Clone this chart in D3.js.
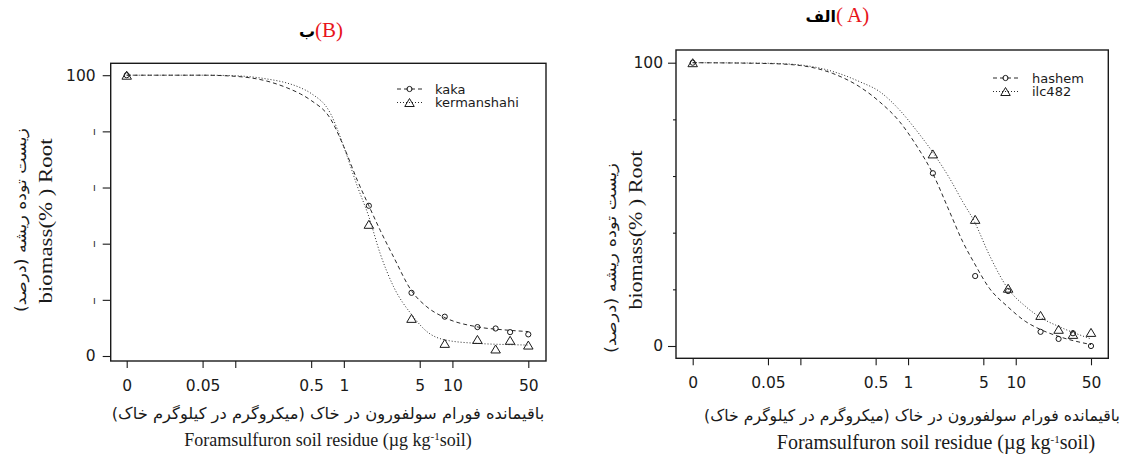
<!DOCTYPE html>
<html><head><meta charset="utf-8">
<script src="https://cdn.jsdelivr.net/npm/d3@7"></script>
<style>body{margin:0;background:#fff;} svg{display:block;}</style>
</head><body><svg id="c" width="1125" height="455"></svg>
<script>
// ---------- data ----------
const doses = [0, 1.7, 4.2, 8.5, 17, 25, 34, 50];
const kakaObs = [100, 53.5, 22.5, 14.0, 10.3, 9.8, 8.5, 7.7];
const kermanshahiObs = [100, 46.9, 13.4, 4.5, 5.9, 2.5, 5.6, 3.9];
const hashemObs = [100, 61.0, 24.7, 19.4, 5.0, 2.5, 4.5, 0];
const ilc482Obs = [100, 67.8, 44.7, 20.4, 10.8, 5.9, 4.1, 4.8];

// fitted curves
const bCurveDoses = [0, 0.05, 0.1, 0.2, 0.3, 0.4, 0.5, 0.75, 1.0, 1.33, 1.7, 2.16, 2.87, 4.24, 5.82, 8.6, 16.8, 30, 50];
const kakaCurve = [100, 100, 99.6, 97.8, 95.5, 93.3, 91.0, 84.6, 74.5, 62.6, 53.5, 44.8, 35.3, 23.0, 17.5, 13.6, 10.4, 9.3, 8.7];
const kermanshahiCurve = [100, 100, 99.8, 98.6, 97.2, 95.5, 93.5, 86.5, 74.5, 60.5, 49.6, 36.5, 24.7, 14.6, 8.7, 5.7, 4.5, 4.1, 3.9];
const aCurveDoses = [0, 0.05, 0.1, 0.2, 0.355, 0.544, 0.834, 1.19, 1.68, 2.43, 3.22, 4.13, 5.69, 8.41, 12.4, 16.6, 25.4, 50];
const hashemCurve = [100, 99.7, 99.0, 96.2, 91.5, 86.2, 79.2, 70.9, 61.2, 47.4, 36.8, 29.2, 20.4, 13.9, 8.6, 6.0, 3.3, 0.5];
const ilc482Curve = [100, 99.8, 99.2, 96.9, 93.3, 89.8, 83.3, 76.2, 68.6, 59.2, 50.9, 43.9, 32.1, 20.4, 13.9, 10.3, 6.8, 2.5];

const xTickValues = [0, 0.05, 0.1, 0.5, 1, 5, 10, 50];
const xTickLabels = ["0", "0.05", "", "0.5", "1", "5", "10", "50"];
const yTickValues = [0, 20, 40, 60, 80, 100];
const yTickLabelsB = ["0", "ı", "ı", "ı", "ı", "100"];
const yTickLabelsA = ["0", "", "", "", "", "100"];

const xTitleFa = "باقیمانده فورام سولفورون در خاک (میکروگرم در کیلوگرم خاک)";
const yTitleFa = "زیست توده ریشه (درصد)";
const yTitleEn = "biomass(% )  Root";

// ---------- layout ----------
const svg = d3.select("#c");
const xv = d => d === 0 ? 0.01 : d;
const ink = "#1a1a1a";

const panels = [
  { frame: [110.7, 63.3, 546, 361], xr: [126.7, 528.3], yr: [356, 75.2],
    yLabels: yTickLabelsB, shortMid: false, yLabPad: 7,
    titleFa: "ب", titleEn: "(B)", titleX: 315, titleY: 37,
    series: [
      { name: "kaka", obs: kakaObs, cd: bCurveDoses, cv: kakaCurve, dash: "4,3", sym: "circle" },
      { name: "kermanshahi", obs: kermanshahiObs, cd: bCurveDoses, cv: kermanshahiCurve, dash: "1,2", sym: "tri" }
    ],
    leg: { x: 397, y: 89, dy: 13.5, tx: 435 },
    yFa: { x: 21, y: 220, len: 184 }, yEn: { x: 45, y: 221, len: 166 },
    xFa: { x: 328, y: 413, len: 433 }, xEn: { x: 328, y: 446, fs: 18 }
  },
  { frame: [676, 50, 1108.3, 358.3], xr: [692.7, 1091], yr: [346, 62.7],
    yLabels: yTickLabelsA, shortMid: true, yLabPad: 5,
    titleFa: "الف", titleEn: "( A)", titleX: 836, titleY: 22,
    series: [
      { name: "hashem", obs: hashemObs, cd: aCurveDoses, cv: hashemCurve, dash: "4,3", sym: "circle" },
      { name: "ilc482", obs: ilc482Obs, cd: aCurveDoses, cv: ilc482Curve, dash: "1,2", sym: "tri" }
    ],
    leg: { x: 993, y: 78, dy: 13.5, tx: 1032 },
    yFa: { x: 611, y: 258, len: 190 }, yEn: { x: 635, y: 230, len: 160 },
    xFa: { x: 912, y: 415, len: 416 }, xEn: { x: 936, y: 449, fs: 20 }
  }
];

function triPath(w, h) {
  return `M0,${-h/2}L${w/2},${h/2}L${-w/2},${h/2}Z`;
}
function drawSym(g, sym, cx, cy) {
  if (sym === "circle") {
    g.append("circle").attr("cx", cx).attr("cy", cy).attr("r", 2.6)
      .attr("fill", "none").attr("stroke", ink).attr("stroke-width", 1);
  } else {
    g.append("path").attr("d", triPath(9.5, 8)).attr("transform", `translate(${cx},${cy})`)
      .attr("fill", "none").attr("stroke", ink).attr("stroke-width", 1);
  }
}
function fitText(sel, target) {
  const w = sel.node().getBBox().width;
  return w > 0 ? target / w : 1;
}

panels.forEach(p => {
  const [fx0, fy0, fx1, fy1] = p.frame;
  const x = d3.scaleLog().domain([0.01, 50]).range(p.xr);
  const y = d3.scaleLinear().domain([0, 100]).range(p.yr);
  const g = svg.append("g");

  // x axis
  const xa = d3.axisBottom(x).tickValues(xTickValues.map(xv))
    .tickFormat((d, i) => xTickLabels[i]).tickSize(7).tickSizeOuter(0);
  const gx = g.append("g").attr("transform", `translate(0,${fy1})`).call(xa);
  gx.select(".domain").remove();
  gx.selectAll(".tick line").attr("stroke", ink).attr("stroke-width", 1.1);
  gx.selectAll(".tick text").attr("y", 19).attr("fill", ink)
    .style("font-family", "DejaVu Sans").style("font-size", "15.5px");

  // y axis
  const ya = d3.axisLeft(y).tickValues(yTickValues)
    .tickFormat((d, i) => p.yLabels[i]).tickSize(8).tickSizeOuter(0).tickPadding(p.yLabPad);
  const gy = g.append("g").attr("transform", `translate(${fx0},0)`).call(ya);
  gy.select(".domain").remove();
  gy.selectAll(".tick line").attr("stroke", ink).attr("stroke-width", 1.1)
    .attr("x2", d => (p.shortMid && d !== 0 && d !== 100) ? -3 : -8);
  gy.selectAll(".tick text").attr("fill", ink)
    .style("font-family", "DejaVu Sans")
    .style("font-size", (d) => (d === 0 || d === 100) ? "15.5px" : "10px");

  // frame
  g.append("rect").attr("x", fx0).attr("y", fy0).attr("width", fx1 - fx0).attr("height", fy1 - fy0)
    .attr("fill", "none").attr("stroke", ink).attr("stroke-width", 1.4);

  // curves and points
  const line = d3.line().x(d => x(xv(d[0]))).y(d => y(d[1])).curve(d3.curveMonotoneX);
  p.series.forEach(s => {
    const pts = s.cd.map((d, i) => [d, s.cv[i]]);
    g.append("path").attr("d", line(pts)).attr("fill", "none")
      .attr("stroke", "#2a2a2a").attr("stroke-width", 1).attr("stroke-dasharray", s.dash);
    doses.forEach((d, i) => drawSym(g, s.sym, x(xv(d)), y(s.obs[i])));
  });

  // legend
  p.series.forEach((s, i) => {
    const ly = p.leg.y + i * p.leg.dy;
    g.append("line").attr("x1", p.leg.x).attr("x2", p.leg.x + 25).attr("y1", ly).attr("y2", ly)
      .attr("stroke", "#2a2a2a").attr("stroke-width", 1).attr("stroke-dasharray", s.dash);
    drawSym(g, s.sym, p.leg.x + 12.5, ly);
    g.append("text").attr("x", p.leg.tx).attr("y", ly + 4.5).text(s.name)
      .attr("fill", ink).style("font-family", "DejaVu Sans").style("font-size", "13px");
  });

  // panel title
  g.append("text").attr("x", p.titleX).attr("y", p.titleY).attr("text-anchor", "end")
    .text(p.titleFa).attr("fill", "#000").style("font-family", "DejaVu Sans").style("font-size", "16px")
    .style("font-weight", "bold");
  g.append("text").attr("x", p.titleX).attr("y", p.titleY).attr("text-anchor", "start")
    .text(p.titleEn).attr("fill", "#e8141b").style("font-family", "Liberation Serif").style("font-size", "21px");

  // y titles
  const yfa = g.append("text").attr("text-anchor", "middle").attr("direction", "rtl")
    .style("direction", "rtl").style("unicode-bidi", "embed")
    .style("font-family", "DejaVu Sans").style("font-size", "15px").attr("fill", ink)
    .attr("dy", "0.35em").text(yTitleFa);
  const syf = fitText(yfa, p.yFa.len);
  yfa.attr("transform", `translate(${p.yFa.x},${p.yFa.y}) rotate(-90) scale(${syf},1)`);

  const yen = g.append("text").attr("text-anchor", "middle").attr("dy", "0.35em")
    .style("font-family", "Liberation Serif").style("font-size", "19px").attr("fill", ink)
    .text(yTitleEn);
  const sye = fitText(yen, p.yEn.len);
  yen.attr("transform", `translate(${p.yEn.x},${p.yEn.y}) rotate(-90) scale(${sye},1)`);

  // x titles
  const xfa = g.append("text").attr("text-anchor", "middle").attr("direction", "rtl")
    .style("direction", "rtl").style("unicode-bidi", "embed")
    .style("font-family", "DejaVu Sans").style("font-size", "16px").attr("fill", ink)
    .attr("dy", "0.35em").text(xTitleFa);
  const sxf = fitText(xfa, p.xFa.len);
  xfa.attr("transform", `translate(${p.xFa.x},${p.xFa.y}) scale(${sxf},1)`);

  const xen = g.append("text").attr("x", p.xEn.x).attr("y", p.xEn.y).attr("text-anchor", "middle")
    .style("font-family", "Liberation Serif").style("font-size", p.xEn.fs + "px").attr("fill", ink);
  xen.append("tspan").text("Foramsulfuron soil residue (µg kg");
  xen.append("tspan").attr("dy", -6).style("font-size", "11px").text("-1");
  xen.append("tspan").attr("dy", 6).text("soil)");
});
</script></body></html>
